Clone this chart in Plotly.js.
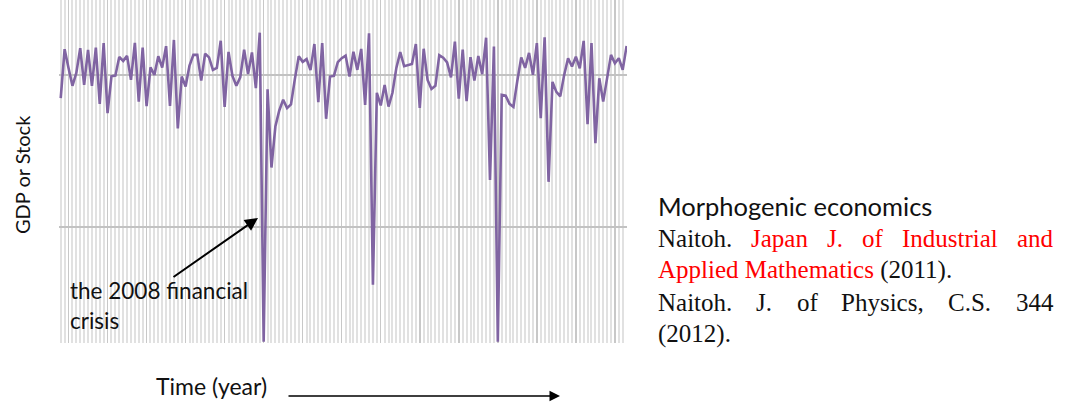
<!DOCTYPE html>
<html><head><meta charset="utf-8">
<script src="https://cdn.plot.ly/plotly-3.0.1.min.js"></script>
<style>html,body{margin:0;padding:0;background:#fff;} #chart{width:1068px;height:416px;}</style>
</head><body><div id="chart"></div>
<script>
// Series (0 = lower gridline, 100 = upper gridline), one value per period
const gdpIndex = [
 84.7,116.9,104.6,92.8,101.3,117.6,93.4,116.4,92.8,118.0,
 80.9,120.9,74.8,99.1,99.5,111.8,109.2,112.5,96.7,121.1,
 82.4,118.0,79.4,104.9,100.0,112.3,104.9,118.9,79.6,123.0,
 64.7,98.9,92.3,106.1,113.2,113.2,96.2,113.9,111.5,103.3,
 104.6,122.5,78.9,115.1,99.3,92.8,98.4,116.6,100.5,114.8,
 91.3,127.8,-75.7,90.5,39.0,66.0,76.6,83.6,78.1,80.6,
 97.4,112.3,108.6,110.4,103.1,120.3,82.0,120.9,71.1,98.9,
 99.3,108.4,111.0,112.7,98.9,115.3,103.3,117.1,80.3,127.4,
 -38.2,88.2,79.9,93.4,79.1,88.2,104.6,115.0,105.7,106.4,
 107.2,120.3,78.3,117.2,96.7,90.7,92.8,113.0,111.3,108.2,
 98.4,121.9,84.3,116.6,82.7,111.7,96.2,112.4,100.5,124.5,
 30.9,118.6,-75.7,86.8,86.3,80.9,78.9,96.1,111.5,104.6,
 114.5,100.0,120.9,71.5,124.7,29.6,95.4,88.8,85.9,100.0,
 111.0,105.5,112.0,104.4,122.4,67.6,120.9,55.1,97.8,82.4,
 97.8,113.2,107.7,111.0,103.3,119.1
];

// Text content
const yLabel = 'GDP or Stock';
const xLabel = 'Time (year)';
const crisisLines = ['the 2008 financial', 'crisis'];
const refTitle = 'Morphogenic economics';
const ref1Words = [['Naitoh.', 'k'], ['Japan', 'r'], ['J.', 'r'], ['of', 'r'], ['Industrial', 'r'], ['and', 'r']];
const ref2Red = 'Applied Mathematics';
const ref2Black = ' (2011).';
const ref3Words = [['Naitoh.', 'k'], ['J.', 'k'], ['of', 'k'], ['Physics,', 'k'], ['C.S.', 'k'], ['344', 'k']];
const ref4 = '(2012).';

const W = 1068, H = 416;
const M = {l: 59, r: 441, t: 0, b: 73};
const PW = W - M.l - M.r, PH = H - M.t - M.b;
const px = x => (x - M.l) / PW;
const py = y => (H - M.b - y) / PH;

const SANS = 'Lato, "Open Sans", sans-serif';
const SERIF = '"Liberation Serif", "Times New Roman", serif';
const INK = '#111111';
const RED = '#ff0000';

const ctx = document.createElement('canvas').getContext('2d');
function measure(t, size, fam) { ctx.font = size + 'px ' + fam; return ctx.measureText(t).width; }

const annotations = [];
function txt(text, x, y, size, fam, opts) {
  annotations.push(Object.assign({
    text: text, xref: 'paper', yref: 'paper', x: px(x), y: py(y),
    showarrow: false, xanchor: 'left', yanchor: 'middle',
    font: {family: fam, size: size, color: INK}, borderpad: 0
  }, opts || {}));
}
function arrow(hx, hy, ax, ay, opts) {
  annotations.push(Object.assign({
    text: '', xref: 'paper', yref: 'paper', x: px(hx), y: py(hy),
    showarrow: true, axref: 'pixel', ayref: 'pixel', ax: ax, ay: ay,
    arrowhead: 2, arrowsize: 1.3, arrowwidth: 2, arrowcolor: '#000'
  }, opts || {}));
}
function justify(words, x0, x1, y, size, fam) {
  const ws = words.map(w => measure(w[0], size, fam));
  const sum = ws.reduce((a, b) => a + b, 0);
  const gap = (x1 - x0 - sum) / (words.length - 1);
  let x = x0;
  words.forEach((w, i) => {
    txt(w[0], x, y, size, fam, {font: {family: fam, size: size, color: w[1] === 'r' ? RED : INK}});
    x += ws[i] + gap;
  });
}

// axis labels
txt(yLabel, 22, 175, 20, SANS, {textangle: -90, xanchor: 'center'});
txt(xLabel, 211, 386, 23, SANS, {xanchor: 'center'});
arrow(560, 396, -273, 0, {arrowwidth: 1.5, arrowsize: 1.4});

// crisis note
txt(crisisLines[0], 69, 290, 22.5, SANS);
txt(crisisLines[1], 69, 320, 22.5, SANS);
arrow(258, 218, -86, 60);

// reference block
const RX0 = 657, RX1 = 1052;
txt(refTitle, RX0, 206, 25.5, SANS);
justify(ref1Words, RX0, RX1, 238, 25, SERIF);
txt('<span style="color:' + RED + '">' + ref2Red + '</span>' + ref2Black, RX0, 270, 25, SERIF);
justify(ref3Words, RX0, RX1, 302, 25, SERIF);
txt(ref4, RX0, 334, 25, SERIF);

const trace = {
  y: gdpIndex, type: 'scatter', mode: 'lines',
  line: {color: '#8064A2', width: 2.6}, hoverinfo: 'skip'
};

const layout = {
  width: W, height: H, margin: M,
  paper_bgcolor: '#ffffff', plot_bgcolor: '#ffffff',
  showlegend: false,
  xaxis: {
    range: [-0.44, 145.1], showticklabels: false, ticks: '', zeroline: false,
    showgrid: true, tick0: 2, dtick: 10, gridcolor: '#c8c8c8', gridwidth: 1.5,
    minor: {tick0: 0, dtick: 1, showgrid: true, gridcolor: '#e1e1e1', gridwidth: 2},
    showline: false
  },
  yaxis: {
    range: [-76.5, 149.3], showticklabels: false, ticks: '', zeroline: false,
    showgrid: true, tick0: 0, dtick: 100, gridcolor: '#c2c2c2', gridwidth: 1.5,
    showline: false
  },
  annotations: annotations
};

Plotly.newPlot('chart', [trace], layout, {displayModeBar: false, staticPlot: true});
</script>
</body></html>
